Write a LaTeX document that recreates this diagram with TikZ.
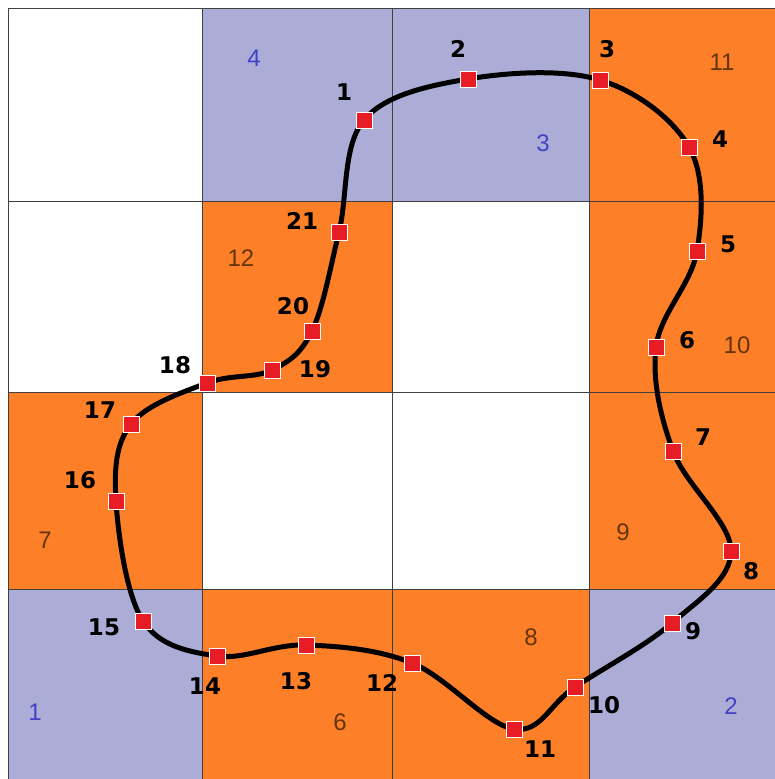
\documentclass[tikz,border=0pt]{standalone}
\usepackage{fontspec}
\setmainfont{Liberation Sans}
\newfontfamily\knotfont{DejaVu Sans}
\usetikzlibrary{positioning}
\definecolor{cellLav}{RGB}{171, 173, 214}
\definecolor{cellOrange}{RGB}{253, 127, 39}
\definecolor{idBlue}{RGB}{66, 66, 200}
\definecolor{idBrown}{RGB}{100, 52, 10}
\definecolor{knotRed}{RGB}{232, 28, 36}
\tikzset{
  gridline/.style={draw=black!75, line width=0.8pt},
  loopline/.style={draw=black, line width=5pt, line join=round},
  knot/.style={rectangle, fill=knotRed, draw=white, line width=0.4pt, minimum size=16pt, inner sep=0pt},
  knotlabel/.style={font=\knotfont\fontsize{23pt}{25pt}\selectfont\bfseries, text=black, inner sep=0pt},
  blueid/.style={font=\fontsize{24pt}{26pt}\selectfont, text=idBlue, inner sep=0pt},
  brownid/.style={font=\fontsize{24pt}{26pt}\selectfont, text=idBrown, inner sep=0pt}
}

\begin{document}
\begin{tikzpicture}[x=1pt, y=-1pt]
  \useasboundingbox[fill=white] (0,0) rectangle (774,779);
  % cells
  \foreach \xa/\ya/\xb/\yb/\col in {202/8/392/201/cellLav, 392/8/589/201/cellLav, 589/8/781/201/cellOrange,
      202/201/392/392/cellOrange, 589/201/781/392/cellOrange,
      8/392/202/589/cellOrange, 589/392/781/589/cellOrange,
      8/589/202/781/cellLav, 202/589/392/781/cellOrange, 392/589/589/781/cellOrange, 589/589/781/781/cellLav}
    \fill[\col] (\xa,\ya) rectangle (\xb,\yb);
  \foreach \x in {8,202,392,589}
    \draw[gridline] (\x,8) -- (\x,781);
  \foreach \y in {8,201,392,589}
    \draw[gridline] (8,\y) -- (781,\y);

  % cell numbers
  \node[blueid] (c4) at (254,58) {4};
  \node[blueid] (c3) at (543,143) {3};
  \node[blueid] (c1) at (35,712) {1};
  \node[blueid] (c2) at (731,706) {2};
  \node[brownid] (c11) at (722,62) {11};
  \node[brownid] (c12) at (241,258) {12};
  \node[brownid] (c10) at (737,345) {10};
  \node[brownid] (c7) at (45,540) {7};
  \node[brownid] (c9) at (623,532) {9};
  \node[brownid] (c6) at (340,722) {6};
  \node[brownid] (c8) at (531,637) {8};

  % knots of the loop
  \foreach \i/\x/\y in {1/364/120, 2/468/79, 3/600/80, 4/689/147, 5/697/251, 6/656/347, 7/673/451,
      8/731/551, 9/672/623, 10/575/687, 11/514/729, 12/412/663, 13/306/645, 14/217/656,
      15/143/621, 16/116/501, 17/131/424, 18/207/383, 19/272/370, 20/312/331, 21/339/232}
    \coordinate (p\i) at (\x,\y);

  \draw[loopline] plot[smooth cycle, tension=0.6] coordinates {(p1) (p2) (p3) (p4) (p5) (p6) (p7)
      (p8) (p9) (p10) (p11) (p12) (p13) (p14) (p15) (p16) (p17) (p18) (p19) (p20) (p21)};

  \foreach \i in {1,...,21}
    \node[knot] (k\i) at (p\i) {};

  \foreach \i/\x/\y in {1/344/92, 2/458/49, 3/607/49, 4/720/139, 5/728/244, 6/687/340, 7/703/437,
      8/751/571, 9/693/631, 10/604/705, 11/540/749, 12/382/683, 13/296/681, 14/205/686,
      15/104/627, 16/80/480, 17/100/410, 18/175/365, 19/315/369, 20/293/306, 21/302/221}
    \node[knotlabel] (l\i) at (\x,\y) {\i};
\end{tikzpicture}
\end{document}
